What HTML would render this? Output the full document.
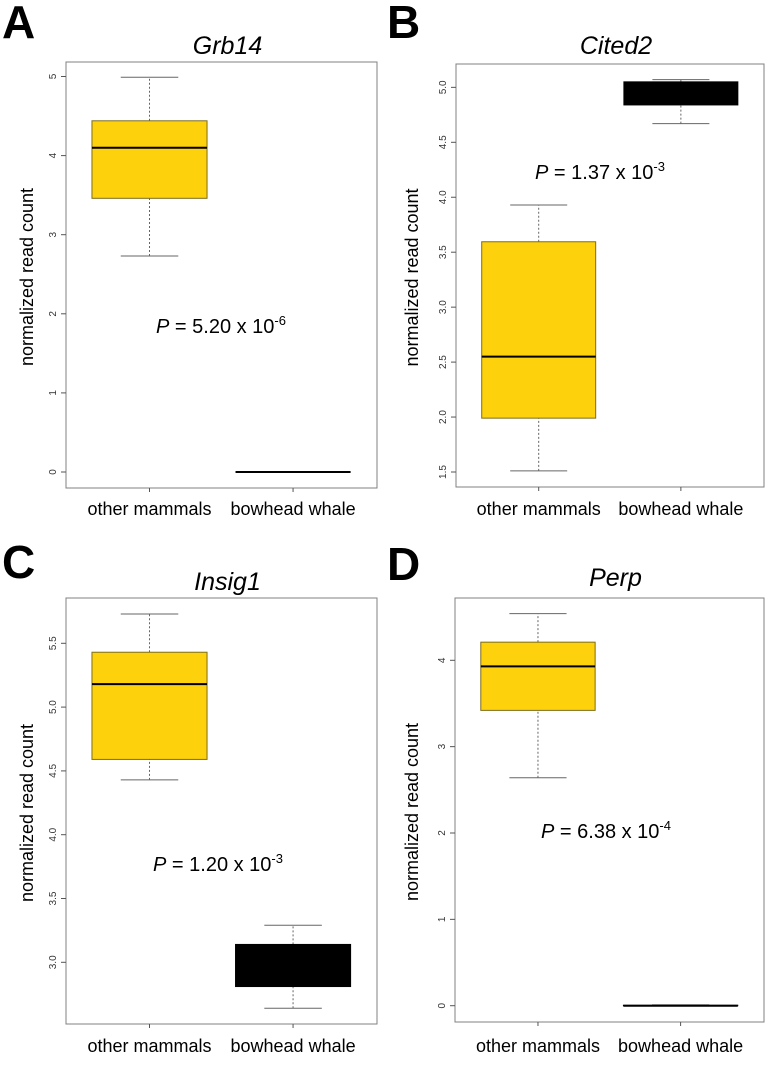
<!DOCTYPE html>
<html><head><meta charset="utf-8"><style>
html,body{margin:0;padding:0;background:#fff;}
svg{display:block;font-family:"Liberation Sans",Arial,sans-serif;}
</style></head><body>
<svg id="fig" width="771" height="1070" xmlns="http://www.w3.org/2000/svg"></svg>
<script>
// ---- data ----
const categories = ["other mammals", "bowhead whale"];
const panelLetters = ["A", "B", "C", "D"];
const geneNames = ["Grb14", "Cited2", "Insig1", "Perp"];
const pMantissa = ["5.20", "1.37", "1.20", "6.38"];
const pExponent = ["-6", "-3", "-3", "-4"];
// [lowerWhisker, Q1, median, Q3, upperWhisker]
const grb14Mammals = [2.73, 3.46, 4.10, 4.44, 4.99];
const grb14Whale   = [0, 0, 0, 0, 0];
const cited2Mammals = [1.51, 1.99, 2.55, 3.595, 3.93];
const cited2Whale   = [4.67, 4.84, 4.95, 5.05, 5.07];
const insig1Mammals = [4.43, 4.59, 5.18, 5.43, 5.73];
const insig1Whale   = [2.64, 2.81, 2.97, 3.14, 3.29];
const perpMammals = [2.64, 3.42, 3.93, 4.21, 4.54];
const perpWhale   = [0, 0, 0, 0.005, 0.01];
const ticksA = [0, 1, 2, 3, 4, 5];
const ticksB = [1.5, 2.0, 2.5, 3.0, 3.5, 4.0, 4.5, 5.0];
const ticksC = [3.0, 3.5, 4.0, 4.5, 5.0, 5.5];
const ticksD = [0, 1, 2, 3, 4];
const tickLabelsA = ["0","1","2","3","4","5"];
const tickLabelsB = ["1.5","2.0","2.5","3.0","3.5","4.0","4.5","5.0"];
const tickLabelsC = ["3.0","3.5","4.0","4.5","5.0","5.5"];
const tickLabelsD = ["0","1","2","3","4"];

// ---- layout (pixel geometry, not data) ----
const layouts = [
  {ox:0,   left:66,  right:377, top:62,  bottom:488,  v0:0,   y0:472,   ppu:79.1,  letterY:38,  titleY:54,  xlabY:515,  pX:156, pY:333},
  {ox:385, left:456, right:764, top:64,  bottom:487,  v0:1.5, y0:472,   ppu:109.9, letterY:38,  titleY:54,  xlabY:515,  pX:535, pY:179},
  {ox:0,   left:66,  right:377, top:598, bottom:1024, v0:3.0, y0:962.3, ppu:127.6, letterY:578, titleY:590, xlabY:1052, pX:153, pY:871},
  {ox:385, left:455, right:764, top:598, bottom:1022, v0:0,   y0:1005.7,ppu:86.35, letterY:580, titleY:586, xlabY:1052, pX:541, pY:838}
];
const panelSeries = [[grb14Mammals, grb14Whale],[cited2Mammals, cited2Whale],[insig1Mammals, insig1Whale],[perpMammals, perpWhale]];
const panelTicks = [ticksA, ticksB, ticksC, ticksD];
const panelTickLabels = [tickLabelsA, tickLabelsB, tickLabelsC, tickLabelsD];
const fills = ["#FDD10B", "#000000"];
const strokes = ["#7d6d1a", "#000000"];

const NS = "http://www.w3.org/2000/svg";
const svg = document.getElementById("fig");
function mk(tag, attrs, parent){
  const e = document.createElementNS(NS, tag);
  for (const k in attrs) e.setAttribute(k, attrs[k]);
  parent.appendChild(e);
  return e;
}

for (let p = 0; p < 4; p++) {
  const L = layouts[p];
  const g = mk("g", {}, svg);
  
  
  const y = v => L.y0 - (v - L.v0) * L.ppu;
  const plotW = L.right - L.left;
  const xc = i => L.left + plotW * (0.2685 + i * 0.4616);
  const halfBox = plotW * 0.185;

  const letter = mk("text", {x: L.ox + 2, y: L.letterY, "font-size": 46, "font-weight": "bold", fill: "#000"}, g);
  letter.textContent = panelLetters[p];
  
  

  const title = mk("text", {x: (L.left + L.right) / 2 + 6, y: L.titleY, "font-size": 25, "font-style": "italic", "text-anchor": "middle", fill: "#000"}, g);
  title.textContent = geneNames[p];
  
  

  const frame = mk("rect", {x: L.left, y: L.top, width: plotW, height: L.bottom - L.top, fill: "none", stroke: "#808080", "stroke-width": 1}, g);
  
  

  const yt = mk("text", {x: 0, y: 0, "font-size": 18, "text-anchor": "middle", fill: "#000", transform: `translate(${L.ox + 33},${(L.top + L.bottom) / 2 + 2}) rotate(-90)`}, g);
  yt.textContent = "normalized read count";
  
  

  const ticks = panelTicks[p], tl = panelTickLabels[p];
  for (let t = 0; t < ticks.length; t++) {
    const ty = y(ticks[t]);
    const tk = mk("line", {x1: L.left - 5, x2: L.left, y1: ty, y2: ty, stroke: "#555", "stroke-width": 1}, g);
    
    
    const lab = mk("text", {x: 0, y: 0, "font-size": 10, "text-anchor": "middle", fill: "#333", transform: `translate(${L.left - 10},${ty}) rotate(-90)`}, g);
    lab.textContent = tl[t];
    
    
  }

  for (let i = 0; i < 2; i++) {
    const cx = xc(i);
    const tk = mk("line", {x1: cx, x2: cx, y1: L.bottom, y2: L.bottom + 4, stroke: "#555"}, g);
    
    
    const lab = mk("text", {x: cx, y: L.xlabY, "font-size": 18, "text-anchor": "middle", fill: "#000"}, g);
    lab.textContent = categories[i];
    
    

    const s = panelSeries[p][i];
    const bg = mk("g", {}, g);
    
    
    const w1 = mk("line", {x1: cx, x2: cx, y1: y(s[0]), y2: y(s[1]), stroke: "#666", "stroke-dasharray": "2,2"}, bg);
    
    
    const w2 = mk("line", {x1: cx, x2: cx, y1: y(s[3]), y2: y(s[4]), stroke: "#666", "stroke-dasharray": "2,2"}, bg);
    
    
    const c1 = mk("line", {x1: cx - halfBox / 2, x2: cx + halfBox / 2, y1: y(s[0]), y2: y(s[0]), stroke: "#666"}, bg);
    
    
    const c2 = mk("line", {x1: cx - halfBox / 2, x2: cx + halfBox / 2, y1: y(s[4]), y2: y(s[4]), stroke: "#666"}, bg);
    
    
    const r = mk("rect", {x: cx - halfBox, y: y(s[3]), width: 2 * halfBox, height: Math.max(0, y(s[1]) - y(s[3])), fill: fills[i], stroke: strokes[i], "stroke-width": 1}, bg);
    
    
    const m = mk("line", {x1: cx - halfBox, x2: cx + halfBox, y1: y(s[2]), y2: y(s[2]), stroke: "#000", "stroke-width": 2}, bg);
    
    
  }

  const pt = mk("text", {x: L.pX, y: L.pY, "font-size": 20, fill: "#000"}, g);
  
  
  const pi = mk("tspan", {"font-style": "italic"}, pt); pi.textContent = "P";
  const pm = mk("tspan", {}, pt); pm.textContent = " = " + pMantissa[p] + " x 10";
  const pe = mk("tspan", {"font-size": 13, dy: -8}, pt); pe.textContent = pExponent[p];
}
</script>
</body></html>
